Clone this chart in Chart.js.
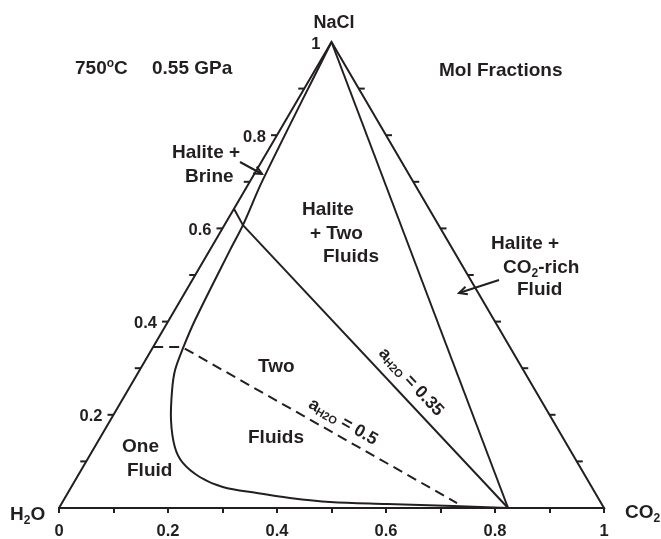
<!DOCTYPE html>
<html><head><meta charset="utf-8">
<script src="https://cdn.jsdelivr.net/npm/chart.js@4.4.0/dist/chart.umd.min.js"></script>
<style>html,body{margin:0;padding:0;background:#fff;} #wrap{width:661px;height:539px;position:relative;}</style>
</head><body><div id="wrap"><canvas id="c" width="661" height="539"></canvas></div>
<script>
// Ternary data as mole fractions (CO2, NaCl); H2O = 1 - CO2 - NaCl
const outlineCO2 = [0, 1, 0, 0];
const outlineNaCl = [0, 0, 1, 0];
const haliteFluidCO2 = [0, 0.824];
const haliteFluidNaCl = [1, 0];
const solvusCO2 = [0, 0.022, 0.034, 0.037, 0.048, 0.056, 0.065, 0.081, 0.111, 0.147, 0.179, 0.225, 0.278, 0.347, 0.413, 0.491, 0.598, 0.721, 0.824];
const solvusNaCl = [1, 0.704, 0.607, 0.554, 0.403, 0.343, 0.296, 0.253, 0.189, 0.131, 0.0966, 0.0665, 0.045, 0.032, 0.0215, 0.0129, 0.0086, 0.0043, 0];
const brineLimitCO2 = [0, 0.034];
const brineLimitNaCl = [0.642, 0.607];
const aw035CO2 = [0.034, 0.824];
const aw035NaCl = [0.607, 0];
const aw05CO2 = [0, 0.053, 0.725];
const aw05NaCl = [0.3455, 0.3455, 0.0107];
const bottomTickLabels = ['0', '0.2', '0.4', '0.6', '0.8', '1'];
const leftTickValues = [0.2, 0.4, 0.6, 0.8, 1];
const leftTickLabels = ['0.2', '0.4', '0.6', '0.8', '1'];
const edgeTickValues = [0.1, 0.2, 0.3, 0.4, 0.5, 0.6, 0.7, 0.8, 0.9];

const INK = '#231f20';
const FAM = '"Liberation Sans", Arial, Helvetica, sans-serif';

function toXY(co2, nacl) {
  return co2.map((c, i) => ({ x: c + nacl[i] / 2, y: nacl[i] }));
}
function ds(data, extra) {
  return Object.assign({ data, borderColor: INK, borderWidth: 2, pointRadius: 0, fill: false, tension: 0, clip: false }, extra || {});
}

function drawRich(ctx, parts, x, y, align) {
  let total = 0;
  parts.forEach(p => { ctx.font = 'bold ' + p[1] + 'px ' + FAM; total += ctx.measureText(p[0]).width; });
  let cx = align === 'center' ? x - total / 2 : (align === 'right' ? x - total : x);
  ctx.textAlign = 'left';
  parts.forEach(p => {
    ctx.font = 'bold ' + p[1] + 'px ' + FAM;
    ctx.fillText(p[0], cx, y + (p[2] || 0));
    cx += ctx.measureText(p[0]).width;
  });
}
function arrow(ctx, x1, y1, x2, y2) {
  ctx.beginPath(); ctx.moveTo(x1, y1); ctx.lineTo(x2, y2); ctx.stroke();
  const a = Math.atan2(y2 - y1, x2 - x1), L = 9, s = 0.45;
  ctx.beginPath();
  ctx.moveTo(x2 - L * Math.cos(a - s), y2 - L * Math.sin(a - s));
  ctx.lineTo(x2, y2);
  ctx.lineTo(x2 - L * Math.cos(a + s), y2 - L * Math.sin(a + s));
  ctx.stroke();
}

const texts = [
  { parts: [['750', 19], ['o', 12, -7], ['C', 19]], x: 75, y: 74 },
  { parts: [['0.55 GPa', 19]], x: 152, y: 74 },
  { parts: [['Mol Fractions', 19]], x: 439, y: 76 },
  { parts: [['NaCl', 18]], x: 334, y: 28, align: 'center' },
  { parts: [['H', 19], ['2', 12, 4], ['O', 19]], x: 10, y: 520 },
  { parts: [['CO', 19], ['2', 12, 4]], x: 625, y: 518 },
  { parts: [['Halite +', 19]], x: 172, y: 158 },
  { parts: [['Brine', 19]], x: 185, y: 182 },
  { parts: [['Halite', 19]], x: 302, y: 215 },
  { parts: [['+ Two', 19]], x: 310, y: 239 },
  { parts: [['Fluids', 19]], x: 323, y: 262 },
  { parts: [['Halite +', 19]], x: 491, y: 249 },
  { parts: [['CO', 19], ['2', 12, 4], ['-rich', 19]], x: 503, y: 273 },
  { parts: [['Fluid', 19]], x: 517, y: 295 },
  { parts: [['Two', 19]], x: 258, y: 372 },
  { parts: [['Fluids', 19]], x: 248, y: 443 },
  { parts: [['One', 19]], x: 122, y: 452 },
  { parts: [['Fluid', 19]], x: 127, y: 476 }
];

const ternaryDecor = {
  id: 'ternaryDecor',
  afterDraw(chart) {
    const ctx = chart.ctx, xs = chart.scales.x, ys = chart.scales.y;
    ctx.save();
    ctx.strokeStyle = INK; ctx.fillStyle = INK; ctx.lineWidth = 2; ctx.lineCap = 'butt';
    // edge ticks
    edgeTickValues.forEach(v => {
      const y = ys.getPixelForValue(v);
      const xl = xs.getPixelForValue(v / 2);
      const xr = xs.getPixelForValue(1 - v / 2);
      ctx.beginPath(); ctx.moveTo(xl, y); ctx.lineTo(xl - 6, y); ctx.stroke();
      ctx.beginPath(); ctx.moveTo(xr, y); ctx.lineTo(xr + 6, y); ctx.stroke();
    });
    // left tick labels
    ctx.font = 'bold 16.5px ' + FAM; ctx.textAlign = 'right'; ctx.textBaseline = 'middle';
    leftTickValues.forEach((v, i) => {
      const y = ys.getPixelForValue(v);
      const xl = xs.getPixelForValue(v / 2);
      ctx.fillText(leftTickLabels[i], xl - 11, y + 2);
    });
    ctx.textBaseline = 'alphabetic';
    texts.forEach(t => drawRich(ctx, t.parts, t.x, t.y, t.align || 'left'));
    // arrows
    arrow(ctx, 240, 162, 262, 174);
    arrow(ctx, 499, 280, 459, 293);
    // rotated activity labels
    ctx.save(); ctx.translate(411, 382); ctx.rotate(47 * Math.PI / 180);
    ctx.textBaseline = 'middle';
    drawRich(ctx, [['a', 17.5], ['H2O', 11, 4], [' = 0.35', 17.5]], 0, 0, 'center');
    ctx.restore();
    ctx.save(); ctx.translate(343, 422); ctx.rotate(30 * Math.PI / 180);
    ctx.textBaseline = 'middle';
    drawRich(ctx, [['a', 17.5], ['H2O', 11, 4], [' = 0.5', 17.5]], 0, 0, 'center');
    ctx.restore();
    ctx.restore();
  }
};

new Chart(document.getElementById('c'), {
  type: 'line',
  data: {
    datasets: [
      ds(toXY(outlineCO2, outlineNaCl)),
      ds(toXY(haliteFluidCO2, haliteFluidNaCl)),
      ds(toXY(solvusCO2, solvusNaCl), { tension: 0.35 }),
      ds(toXY(brineLimitCO2, brineLimitNaCl)),
      ds(toXY(aw035CO2, aw035NaCl)),
      ds(toXY(aw05CO2, aw05NaCl), { borderDash: [10, 6] })
    ]
  },
  options: {
    responsive: false,
    animation: false,
    events: [],
    layout: { padding: { left: 59, right: 57, top: 42, bottom: 0 } },
    plugins: { legend: { display: false }, tooltip: { enabled: false } },
    scales: {
      x: {
        type: 'linear', min: 0, max: 1,
        afterFit(scale) { scale.height = 31; },
        border: { display: true, color: INK, width: 2 },
        grid: { display: true, drawOnChartArea: false, drawTicks: true, tickLength: 5, color: INK, lineWidth: 2 },
        ticks: {
          stepSize: 0.1, autoSkip: false, maxRotation: 0, padding: 9, color: INK,
          font: { family: FAM, size: 16.5, weight: 'bold' },
          callback: (v, i) => (i % 2 === 0 ? bottomTickLabels[i / 2] : '')
        }
      },
      y: { type: 'linear', min: 0, max: 1, display: false }
    }
  },
  plugins: [ternaryDecor]
});
</script>
</body></html>
